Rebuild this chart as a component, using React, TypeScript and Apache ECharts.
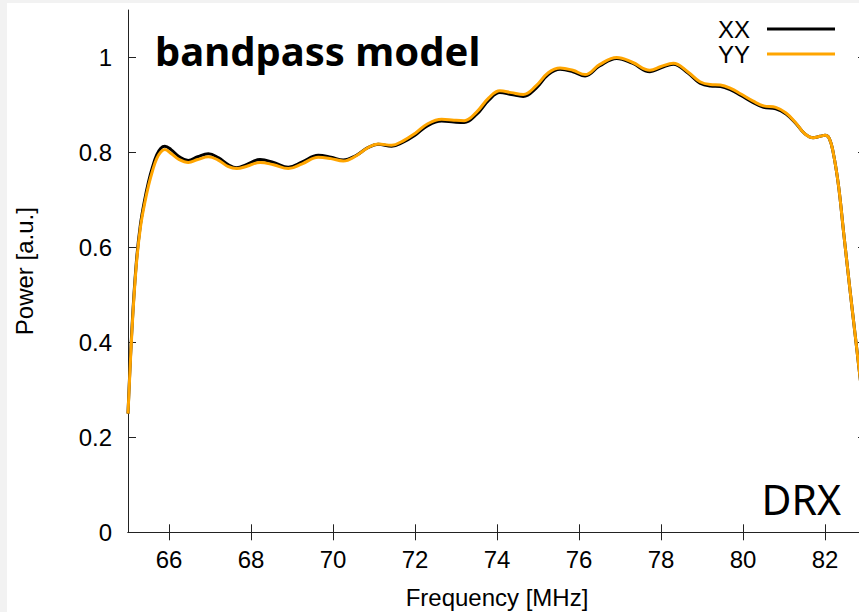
import React, { useEffect, useRef } from "react";
import * as echarts from "echarts";

// Frequency samples [MHz]
const frequency = [
  65.0, 65.1, 65.2, 65.3, 65.4, 65.5, 65.6, 65.7, 65.8, 65.9,
  66.05, 66.25, 66.47, 66.7, 66.96, 67.2, 67.45, 67.65, 67.9, 68.22,
  68.55, 68.91, 69.25, 69.64, 69.95, 70.25, 70.55, 70.85, 71.1, 71.43,
  71.7, 72.0, 72.3, 72.65, 72.95, 73.2, 73.5, 73.8, 74.07, 74.35,
  74.64, 74.95, 75.25, 75.54, 75.85, 76.15, 76.5, 76.92, 77.3, 77.73,
  78.0, 78.3, 78.65, 78.95, 79.2, 79.45, 79.7, 79.95, 80.25, 80.5,
  80.8, 81.05, 81.3, 81.5, 81.71, 81.88, 82.0, 82.1, 82.2, 82.33,
  82.45, 82.61, 82.73, 82.83, 83.0,
];

// XX polarisation bandpass
const powerXX = [
  0.25, 0.435, 0.565, 0.646, 0.697, 0.738, 0.77, 0.795, 0.809, 0.813,
  0.806, 0.791, 0.783, 0.791, 0.797, 0.789, 0.774, 0.768, 0.775, 0.785,
  0.779, 0.769, 0.78, 0.794, 0.79, 0.784, 0.793, 0.81, 0.817, 0.813,
  0.821, 0.836, 0.856, 0.866, 0.864, 0.863, 0.88, 0.91, 0.926, 0.922,
  0.918, 0.935, 0.964, 0.975, 0.97, 0.961, 0.982, 0.998, 0.988, 0.97,
  0.978, 0.986, 0.968, 0.946, 0.94, 0.939, 0.932, 0.92, 0.905, 0.895,
  0.892, 0.881, 0.86, 0.84, 0.831, 0.834, 0.836, 0.83, 0.8, 0.73,
  0.635, 0.51, 0.42, 0.345, 0.22,
];

// YY polarisation bandpass
const powerYY = [
  0.25, 0.43, 0.56, 0.64, 0.69, 0.73, 0.762, 0.787, 0.801, 0.806,
  0.798, 0.785, 0.779, 0.785, 0.791, 0.784, 0.77, 0.766, 0.771, 0.779,
  0.774, 0.766, 0.776, 0.79, 0.787, 0.782, 0.792, 0.81, 0.818, 0.815,
  0.824, 0.84, 0.86, 0.87, 0.868, 0.867, 0.885, 0.915, 0.93, 0.926,
  0.922, 0.94, 0.968, 0.978, 0.973, 0.964, 0.985, 1.0, 0.99, 0.973,
  0.981, 0.988, 0.97, 0.949, 0.943, 0.942, 0.935, 0.923, 0.908, 0.898,
  0.895, 0.883, 0.861, 0.84, 0.831, 0.834, 0.836, 0.83, 0.8, 0.73,
  0.635, 0.51, 0.42, 0.345, 0.22,
];

const seriesNames = ["XX", "YY"];
const seriesColors = ["#000000", "#FFA500"];
const xRange = [65, 83];
const yRange = [0, 1.1];
const xTickValues = [66, 68, 70, 72, 74, 76, 78, 80, 82];
const yTickValues = [0, 0.2, 0.4, 0.6, 0.8, 1];
const titleText = "bandpass model";
const tagText = "DRX";
const xName = "Frequency [MHz]";
const yName = "Power [a.u.]";

const FONT = "'Liberation Sans', Arial, sans-serif";

export default function App() {
  const ref = useRef<HTMLDivElement>(null);

  useEffect(() => {
    if (!ref.current) return;
    const chart = echarts.init(ref.current, null, { renderer: "svg" });
    const axisLine = { show: true, lineStyle: { color: "#222", width: 1 } };
    const tickBase = { show: true, inside: true, length: 8, lineStyle: { color: "#222", width: 1 } };
    const labelStyle = { color: "#000", fontSize: 24, fontFamily: FONT };

    const toPairs = (ys: number[]) => frequency.map((f, i) => [f, ys[i]]);

    chart.setOption({
      animation: false,
      backgroundColor: "#ffffff",
      grid: { left: 128, top: 10, width: 738, height: 522.3, containLabel: false, outerBoundsMode: "none" },
      legend: {
        data: seriesNames,
        orient: "vertical",
        right: 19,
        top: 12,
        align: "right",
        icon: "rect",
        itemWidth: 68,
        itemHeight: 3,
        itemGap: 1,
        textStyle: { color: "#000", fontSize: 24, fontFamily: FONT, padding: [0, 12, 0, 0] },
      },
      xAxis: [
        {
          type: "value",
          min: xRange[0],
          max: xRange[1],
          name: xName,
          nameLocation: "middle",
          nameGap: 53,
          nameTextStyle: { color: "#000", fontSize: 24, fontFamily: FONT },
          axisLine,
          axisTick: { ...tickBase, customValues: xTickValues },
          axisLabel: { ...labelStyle, margin: 15, customValues: xTickValues },
          splitLine: { show: false },
        },
        {
          type: "value",
          position: "top",
          min: xRange[0],
          max: xRange[1],
          axisLine,
          axisTick: { ...tickBase, customValues: xTickValues },
          axisLabel: { show: false },
          splitLine: { show: false },
        },
      ],
      yAxis: [
        {
          type: "value",
          min: yRange[0],
          max: yRange[1],
          name: yName,
          nameLocation: "middle",
          nameGap: 92,
          nameTextStyle: { color: "#000", fontSize: 24, fontFamily: FONT },
          axisLine,
          axisTick: { ...tickBase, customValues: yTickValues },
          axisLabel: {
            ...labelStyle,
            margin: 16,
            customValues: yTickValues,
            formatter: (v: number) => String(Math.round(v * 10) / 10),
          },
          splitLine: { show: false },
        },
        {
          type: "value",
          position: "right",
          min: yRange[0],
          max: yRange[1],
          axisLine,
          axisTick: { ...tickBase, customValues: yTickValues },
          axisLabel: { show: false },
          splitLine: { show: false },
        },
      ],
      graphic: [
        { type: "rect", left: 0, top: 0, shape: { width: 859, height: 3 }, style: { fill: "#f2f2f2" }, silent: true },
        { type: "rect", left: 0, top: 0, shape: { width: 7, height: 612 }, style: { fill: "#f2f2f2" }, silent: true },
        {
          type: "text",
          x: 155,
          y: 50,
          style: {
            text: titleText,
            fontSize: 40,
            fontWeight: "bold",
            fontFamily: "'Noto Sans', sans-serif",
            fill: "#000",
            align: "left",
            verticalAlign: "middle",
          },
        },
        {
          type: "text",
          x: 841,
          y: 499,
          style: {
            text: tagText,
            fontSize: 41,
            fontFamily: "'Noto Sans', sans-serif",
            fill: "#000",
            align: "right",
            verticalAlign: "middle",
          },
        },
      ],
      series: [
        {
          name: seriesNames[0],
          type: "line",
          data: toPairs(powerXX),
          smooth: 0.4,
          showSymbol: false,
          color: seriesColors[0],
          lineStyle: { color: seriesColors[0], width: 3 },
          z: 2,
        },
        {
          name: seriesNames[1],
          type: "line",
          data: toPairs(powerYY),
          smooth: 0.4,
          showSymbol: false,
          color: seriesColors[1],
          lineStyle: { color: seriesColors[1], width: 3 },
          z: 3,
        },
      ],
    });
    return () => chart.dispose();
  }, []);

  return (
    <div
      ref={ref}
      style={{ position: "fixed", left: 0, top: 0, width: 859, height: 612, background: "#fff" }}
    />
  );
}
